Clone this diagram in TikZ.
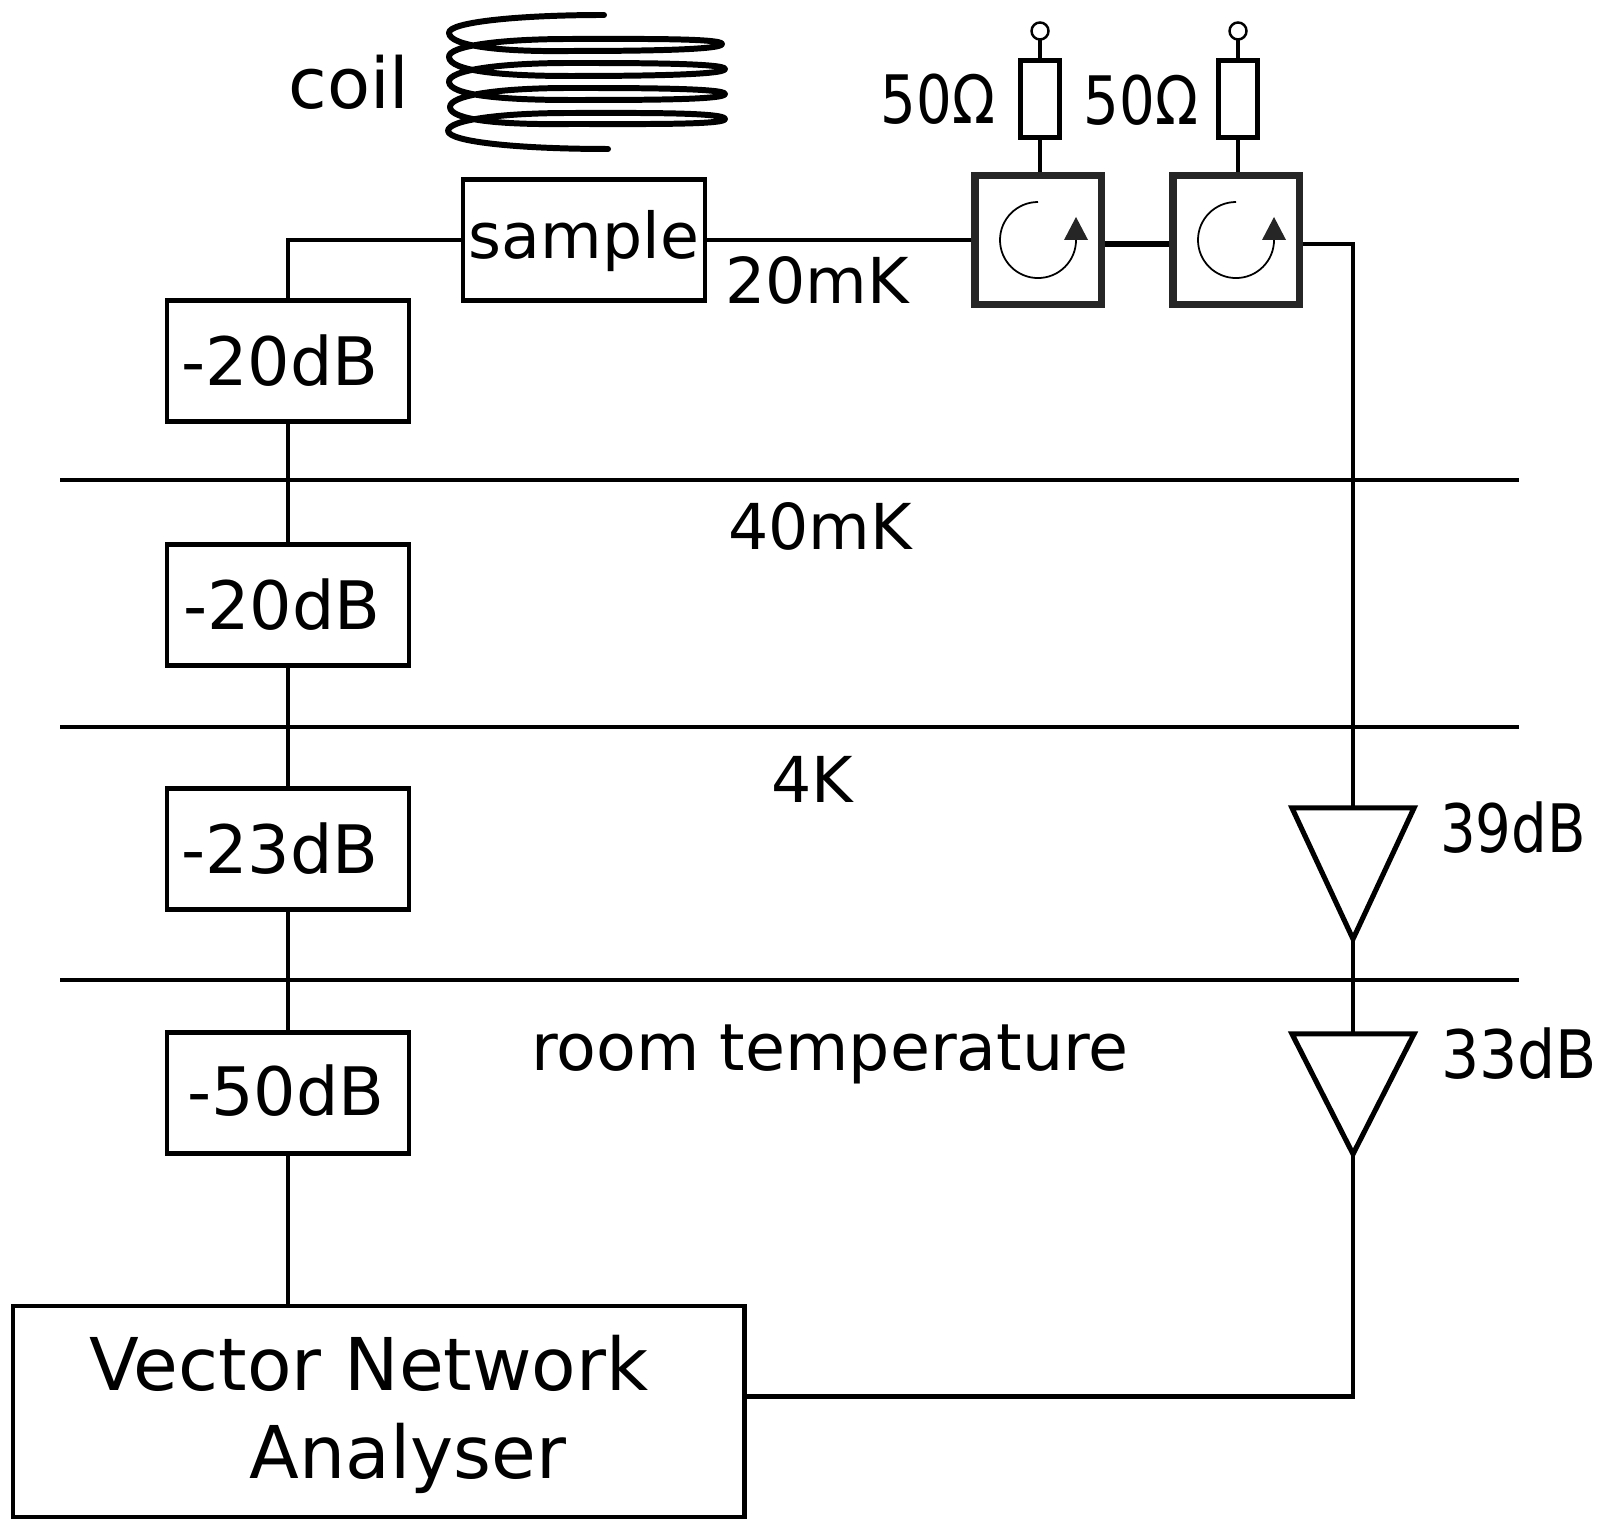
\documentclass[tikz,border=0pt]{standalone}
\usepackage{fontspec}
\setmainfont{DejaVu Sans}
\usetikzlibrary{shapes.geometric}
\pgfdeclarelayer{bg}
\pgfsetlayers{bg,main}
\tikzset{
  wire/.style={line width=1.4pt},
  attbox/.style={draw, line width=1.3pt, fill=white, minimum width=2.42cm, minimum height=1.21cm, outer sep=0pt},
  circbox/.style={draw=black!85, line width=2pt, fill=white, minimum width=1.26cm, minimum height=1.28cm, outer sep=0pt},
  resbox/.style={draw, line width=1.3pt, fill=white, minimum width=0.39cm, minimum height=0.77cm, outer sep=0pt},
  port/.style={draw, circle, line width=0.7pt, fill=white, minimum size=0.17cm, inner sep=0pt, outer sep=0pt},
  ampbox/.style={draw, line width=1.45pt, fill=white, isosceles triangle, isosceles triangle stretches, shape border rotate=270, minimum width=1.22cm, minimum height=#1, inner sep=0pt, outer sep=0pt},
  lbl/.style={font=\fontsize{#1}{22}\selectfont, inner sep=0pt},
  lbl/.default=18,
  lblnarrow/.style={lbl=19, xscale=0.84, transform shape},
}
\begin{document}
\begin{tikzpicture}[x=0.01cm, y=-0.01cm]
\useasboundingbox (0, 0) rectangle (1607, 1519);
\begin{scope}
  \node[attbox] (att1) at (288, 361) {}; %attenuator
  \node[attbox] (att2) at (288, 605) {}; %attenuator
  \node[attbox] (att3) at (288, 849) {}; %attenuator
  \node[attbox] (att4) at (288, 1093) {}; %attenuator
  \node[attbox] (sample) at (584, 240) {}; %sample
  \node[circbox] (circ1) at (1038, 240) {}; %circulator
  \node[circbox] (circ2) at (1236, 240) {}; %circulator
  \node[resbox] (res1) at (1040, 99) {}; %50 ohm
  \node[resbox] (res2) at (1238, 99) {}; %50 ohm
  \node[port] (port1) at (1040, 31) {};
  \node[port] (port2) at (1238, 31) {};
  \node[ampbox=1.31cm, anchor=apex] (amp1) at (1353, 939) {}; %39dB
  \node[ampbox=1.2cm, anchor=apex] (amp2) at (1353, 1154) {}; %33dB
  \node[draw, line width=1.3pt, fill=white, minimum width=7.31cm, minimum height=2.11cm, outer sep=0pt] (vna) at (378.5, 1411.5) {}; %VNA

  \node[lbl=19] (att1text) at (280, 361) {-20dB};
  \node[lbl=19] (att2text) at (282, 605) {-20dB};
  \node[lbl=19] (att3text) at (280, 849) {-23dB};
  \node[lbl=19] (att4text) at (286, 1091) {-50dB};
  \node[lbl] (sampletext) at (584, 241) {sample};
  \node[lbl=20] (coiltext) at (349, 82) {coil};
  \node[lbl] (temp1) at (817, 280) {20mK};
  \node[lbl] (temp2) at (820, 526) {40mK};
  \node[lbl] (temp3) at (812, 779) {4K};
  \node[lbl=18.5] (temp4) at (830, 1054) {room temperature};
  \node[lblnarrow] (gain1) at (1513, 828) {39dB};
  \node[lbl=19, xscale=0.9, transform shape] (gain2) at (1519, 1054) {33dB};
  \node[lblnarrow] (res1text) at (938, 99) {50Ω};
  \node[lblnarrow] (res2text) at (1141, 100) {50Ω};
  \node[lbl=20.7] (vnatext1) at (369, 1363) {Vector Network};
  \node[lbl=20.7] (vnatext2) at (408, 1458) {Analyser};

  \draw[line width=0.5pt] (1038, 202) arc[start angle=90, end angle=360, radius=0.38cm]; %arrow
  \fill[black!85] (1064, 240) -- (1088, 240) -- (1076, 217) -- cycle;
  \draw[line width=0.5pt] (1236, 202) arc[start angle=90, end angle=360, radius=0.38cm]; %arrow
  \fill[black!85] (1262, 240) -- (1286, 240) -- (1274, 217) -- cycle;

  %coil
  \draw[line width=1.7pt, line cap=round, line join=round] (604, 15)
    .. controls (520, 15) and (448, 22) .. (449, 33)
    .. controls (450, 46) and (500, 52) .. (570, 51)
    .. controls (640, 51) and (722, 50) .. (722, 44)
    .. controls (722, 38) and (630, 39) .. (570, 39)
    .. controls (500, 39) and (448, 46) .. (449, 57)
    .. controls (450, 71) and (500, 76) .. (570, 76)
    .. controls (640, 76) and (725, 75) .. (725, 69)
    .. controls (725, 63) and (630, 63) .. (570, 63)
    .. controls (500, 63) and (448, 70) .. (449, 82)
    .. controls (450, 95) and (500, 100) .. (570, 100)
    .. controls (640, 100) and (725, 100) .. (725, 94)
    .. controls (725, 88) and (630, 88) .. (570, 88)
    .. controls (500, 88) and (450, 95) .. (450, 107)
    .. controls (450, 120) and (500, 125) .. (570, 124)
    .. controls (640, 124) and (725, 125) .. (725, 119)
    .. controls (725, 112) and (630, 113) .. (570, 113)
    .. controls (500, 113) and (448, 120) .. (448, 131)
    .. controls (449, 142) and (520, 149) .. (608, 149);
\begin{pgfonlayer}{bg}
  \coordinate (stage1w) at (60, 480);
  \coordinate (stage1e) at (1519, 480);
  \coordinate (stage2w) at (60, 727);
  \coordinate (stage2e) at (1519, 727);
  \coordinate (stage3w) at (60, 980);
  \coordinate (stage3e) at (1519, 980);
  \draw[wire] (stage1w) -- (stage1e);
  \draw[wire] (stage2w) -- (stage2e);
  \draw[wire] (stage3w) -- (stage3e);
  \draw[wire] (sample.west) -| (att1.north);
  \draw[wire] (att1) -- (att2);
  \draw[wire] (att2) -- (att3);
  \draw[wire] (att3) -- (att4);
  \draw[wire] (att4.south) -- (att4.south |- vna.north);
  \draw[wire] (sample.east) -- (circ1.west);
  \draw[line width=1.7pt] ([yshift=-0.04cm]circ1.east) -- ([yshift=-0.04cm]circ2.west);
  \draw[wire] ([yshift=-0.04cm]circ2.east) -| (amp1.apex |- amp1.left side);
  \draw[wire] (amp1.apex) -- (amp1.apex |- amp2.left side);
  \draw[wire] (amp2.apex) |- ([yshift=0.15cm]vna.east);
  \draw[wire] (circ1.north -| res1) -- (res1);
  \draw[wire] (circ2.north -| res2) -- (res2);
  \draw[wire] (res1) -- (port1);
  \draw[wire] (res2) -- (port2);
\end{pgfonlayer}
\end{scope}
\end{tikzpicture}
\end{document}
